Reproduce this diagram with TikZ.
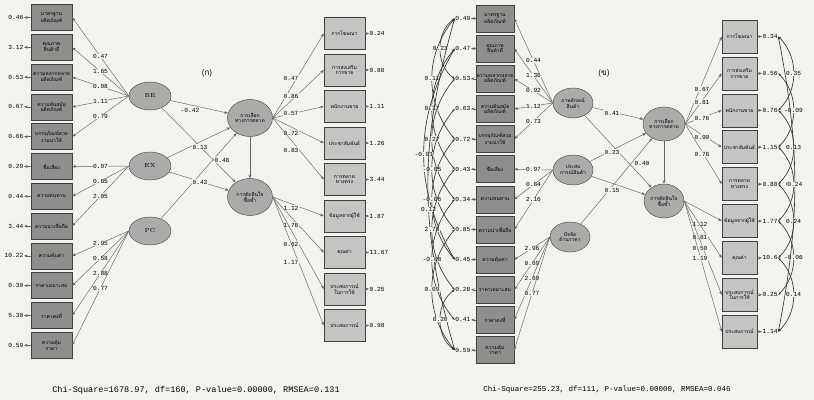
\documentclass[tikz,border=0pt]{standalone}
\usepackage{fontspec}
\setmonofont{Liberation Mono}
\newfontfamily\thaifont[Script=Thai]{Loma}
\usetikzlibrary{shapes.geometric,arrows.meta}
\definecolor{paper}{HTML}{F2F2EF}
\definecolor{boxdark}{HTML}{8E8E8C}
\definecolor{boxlight}{HTML}{C4C4C2}
\definecolor{latfill}{HTML}{ABABA9}

\begin{document}
\begin{tikzpicture}[x=0.03cm, y=-0.03cm, every node/.style={align=center},
  obsa/.style={draw=black!75, fill=boxdark, minimum width=1.23cm, minimum height=0.78cm, inner sep=0pt, font=\thaifont\fontsize{4.3}{4.8}\selectfont},
  obsb/.style={obsa, fill=boxlight, minimum height=0.96cm},
  obsc/.style={obsa, minimum width=1.14cm, minimum height=0.81cm},
  obsd/.style={obsb, minimum width=1.05cm, minimum height=0.99cm},
  latent/.style={ellipse, draw=black!70, fill=latfill, minimum width=1.26cm, minimum height=0.84cm, inner sep=0pt, font=\thaifont\fontsize{4.3}{4.8}\selectfont},
  num/.style={font=\ttfamily\fontsize{5.3}{6}\selectfont, inner sep=0.4pt, fill=paper},
  arr/.style={draw=black!60, -{Stealth[length=3.2pt,width=2.4pt]}},
  corr/.style={draw=black!80, line width=0.55pt, {Stealth[length=2.4pt,width=2pt]}-{Stealth[length=2.4pt,width=2pt]}}]
\fill[paper] (0,0) rectangle (814,400);
\useasboundingbox (0,0) rectangle (814,400);

% ---- (ก)
\node[font=\thaifont\fontsize{7}{8}\selectfont] (tagA) at (207,73) {(ก)};
\foreach \t [count=\i] in {{มาตรฐาน\\ผลิตภัณฑ์}, {คุณภาพ\\สินค้าดี}, {ความหลากหลาย\\ผลิตภัณฑ์}, {ความทันสมัย\\ผลิตภัณฑ์}, {บรรจุภัณฑ์สวย\\งามน่าใช้}, {ชื่อเสียง}, {ความทนทาน}, {ความน่าเชื่อถือ}, {ความคุ้มค่า}, {ราคาเหมาะสม}, {ราคาคงที่}, {ความคุ้ม\\ราคา}}
  \node[obsa] (a\i) at (51.5,{17.5+29.8*(\i-1)}) {\t};
\foreach \v [count=\i] in {0.46,3.12,0.53,0.67,0.66,0.29,0.44,3.44,10.22,0.30,5.30,0.59}{
  \node[num, anchor=east] (ea\i) at (24,{17.5+29.8*(\i-1)}) {\v};
  \draw[arr] (a\i.west) -- (ea\i.east);
}
\node[latent, font=\fontsize{5}{6}\selectfont] (be) at (150,96) {BE};
\node[latent, font=\fontsize{5}{6}\selectfont] (ex) at (150,166) {EX};
\node[latent, font=\fontsize{5}{6}\selectfont] (pc) at (150,231) {PC};
\foreach \j/\v in {1/0.47,2/1.65,3/0.98,4/1.11,5/0.79}
  \draw[arr] (be.west) -- (a\j.east) node[num, pos=.5] {\v};
\foreach \j/\v in {6/0.97,7/0.85,8/2.05}
  \draw[arr] (ex.west) -- (a\j.east) node[num, pos=.5] {\v};
\foreach \j/\v in {9/2.95,10/0.58,11/2.88,12/0.77}
  \draw[arr] (pc.west) -- (a\j.east) node[num, pos=.5] {\v};

\node[latent, minimum width=1.35cm, minimum height=1.11cm] (m1) at (250,118) {การเลือก\\ทางการตลาด};
\node[latent, minimum width=1.35cm, minimum height=1.11cm] (m2) at (250,197) {การตัดสินใจ\\ซื้อซ้ำ};
\draw[arr] (be) -- (m1);
\draw[arr] (be) -- (m2);
\draw[arr] (ex) -- (m1);
\draw[arr] (ex) -- (m2);
\draw[arr] (pc) -- (m1);
\draw[arr] (m1) -- (m2);
\node[num] (pa1) at (190,110) {-0.42};
\node[num] (pa2) at (200,147) {0.13};
\node[num] (pa3) at (200,182) {0.43};
\node[num] (pa4) at (222,160) {0.48};

\foreach \t [count=\i] in {{การโฆษณา}, {การส่งเสริม\\การขาย}, {พนักงานขาย}, {ประชาสัมพันธ์}, {การตลาด\\ทางตรง}, {ข้อมูลจากผู้ใช้}, {คุณค่า}, {ประสบการณ์\\ในการใช้}, {ประสบการณ์}}
  \node[obsb] (b\i) at (344.5,{33.5+36.5*(\i-1)}) {\t};
\foreach \v [count=\i] in {0.24,0.80,1.11,1.26,3.44,1.87,11.67,0.25,0.98}{
  \node[num, anchor=west] (eb\i) at (369,{33.5+36.5*(\i-1)}) {\v};
  \draw[arr] (b\i.east) -- (eb\i.west);
}
\foreach \j/\v/\ly in {1/0.47/78,2/0.86/96,3/0.57/113,4/0.72/133,5/0.83/150}{
  \draw[arr] (m1.east) -- (b\j.west);
  \node[num] (lb\j) at (291,\ly) {\v};
}
\foreach \j/\v/\ly in {6/1.12/208,7/1.78/225,8/0.62/244,9/1.17/262}{
  \draw[arr] (m2.east) -- (b\j.west);
  \node[num] (lb\j) at (291,\ly) {\v};
}
\node[font=\ttfamily\fontsize{7.3}{8}\selectfont] (fitA) at (196,390) {Chi-Square=1678.97, df=160, P-value=0.00000, RMSEA=0.131};

% ---- (ข)
\node[font=\thaifont\fontsize{7}{8}\selectfont] (tagB) at (604,73) {(ข)};
\foreach \t [count=\i] in {{มาตรฐาน\\ผลิตภัณฑ์}, {คุณภาพ\\สินค้าดี}, {ความหลากหลาย\\ผลิตภัณฑ์}, {ความทันสมัย\\ผลิตภัณฑ์}, {บรรจุภัณฑ์สวย\\งามน่าใช้}, {ชื่อเสียง}, {ความทนทาน}, {ความน่าเชื่อถือ}, {ความคุ้มค่า}, {ราคาเหมาะสม}, {ราคาคงที่}, {ความคุ้ม\\ราคา}}
  \node[obsc] (c\i) at (495,{18.5+30.14*(\i-1)}) {\t};
\foreach \v [count=\i] in {0.49,0.47,0.53,0.63,0.72,0.43,0.34,0.85,0.45,0.28,0.41,0.59}{
  \node[num, anchor=east] (ec\i) at (471,{18.5+30.14*(\i-1)}) {\v};
  \draw[arr] (c\i.west) -- (ec\i.east);
}
\foreach \p/\q/\b/\s/\v in {1/3/55/.5/0.23, 1/5/40/.5/0.11, 2/6/40/.5/0.37, 3/7/40/.5/0.27, 2/9/30/.5/-0.01, 4/8/40/.5/-0.05, 5/9/40/.5/-0.06, 1/12/16/.58/0.12, 6/10/40/.5/2.70, 7/11/40/.5/-0.08, 8/12/40/.5/0.09, 10/12/55/.5/0.20}
  \draw[corr] (ec\p.west) to[bend right=\b] node[num, pos=\s] {\v} (ec\q.west);

\node[latent, minimum width=1.2cm, minimum height=0.9cm] (l1) at (573,103) {ภาพลักษณ์\\สินค้า};
\node[latent, minimum width=1.2cm, minimum height=0.9cm] (l2) at (573,170) {ประสบ\\การณ์สินค้า};
\node[latent, minimum width=1.2cm, minimum height=0.9cm] (l3) at (570,237) {ปัจจัย\\ด้านราคา};
\foreach \j/\v in {1/0.44,2/1.36,3/0.92,4/1.12,5/0.73}
  \draw[arr] (l1.west) -- (c\j.east) node[num, pos=.5] {\v};
\foreach \j/\v in {6/0.97,7/0.84,8/2.16}
  \draw[arr] (l2.west) -- (c\j.east) node[num, pos=.5] {\v};
\foreach \j/\v in {9/2.96,10/0.69,11/2.69,12/0.77}
  \draw[arr] (l3.west) -- (c\j.east) node[num, pos=.5] {\v};

\node[latent, minimum width=1.2cm, minimum height=1.02cm] (n1) at (664,124) {การเลือก\\ทางการตลาด};
\node[latent, minimum width=1.2cm, minimum height=1.02cm] (n2) at (664,201) {การตัดสินใจ\\ซื้อซ้ำ};
\draw[arr] (l1) -- (n1);
\draw[arr] (l1) -- (n2);
\draw[arr] (l2) -- (n1);
\draw[arr] (l2) -- (n2);
\draw[arr] (l3) -- (n1);
\draw[arr] (n1) -- (n2);
\node[num] (pb1) at (612,113) {0.41};
\node[num] (pb2) at (612,152) {0.23};
\node[num] (pb3) at (612,190) {0.15};
\node[num] (pb4) at (642,163) {0.40};

\foreach \t [count=\i] in {{การโฆษณา}, {การส่งเสริม\\การขาย}, {พนักงานขาย}, {ประชาสัมพันธ์}, {การตลาด\\ทางตรง}, {ข้อมูลจากผู้ใช้}, {คุณค่า}, {ประสบการณ์\\ในการใช้}, {ประสบการณ์}}
  \node[obsd] (d\i) at (739.5,{36.5+36.9*(\i-1)}) {\t};
\foreach \v [count=\i] in {0.34,0.56,0.76,1.15,0.88,1.77,10.6,0.25,1.14}{
  \node[num, anchor=west] (ed\i) at (762,{36.5+36.9*(\i-1)}) {\v};
  \draw[arr] (d\i.east) -- (ed\i.west);
}
\foreach \p/\q/\b/\v in {1/3/45/0.35, 2/4/45/-0.09, 3/5/45/0.13, 4/6/45/0.04, 5/7/45/0.24, 6/8/45/-0.06, 7/9/45/0.14, 1/9/11/0.24}
  \draw[corr] (ed\p.east) to[bend left=\b] node[num, pos=.5] {\v} (ed\q.east);
\foreach \j/\v/\ly in {1/0.67/89,2/0.81/102,3/0.76/118,4/0.90/137,5/0.78/154}{
  \draw[arr] (n1.east) -- (d\j.west);
  \node[num] (ld\j) at (702,\ly) {\v};
}
\foreach \j/\v/\ly in {6/1.12/224,7/0.81/237,8/0.50/248,9/1.19/258}{
  \draw[arr] (n2.east) -- (d\j.west);
  \node[num] (ld\j) at (700,\ly) {\v};
}
\node[font=\ttfamily\fontsize{6.4}{7}\selectfont] (fitB) at (607,390) {Chi-Square=255.23, df=111, P-value=0.00000, RMSEA=0.046};
\end{tikzpicture}
\end{document}
